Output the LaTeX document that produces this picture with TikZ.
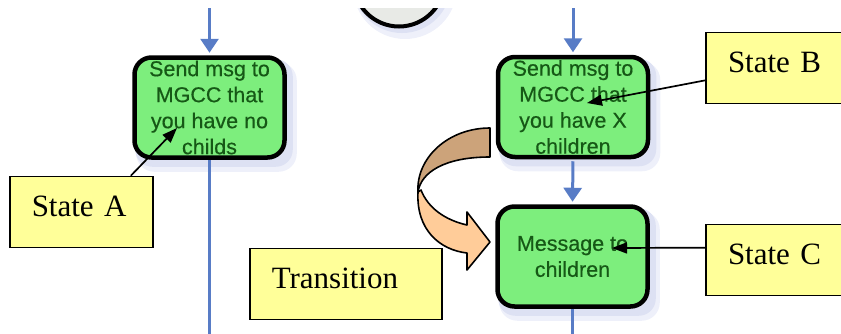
\documentclass[tikz,border=0pt]{standalone}
\usepackage{fontspec}
\setmainfont{Liberation Serif}
\newfontfamily\boxfont[FakeBold=0.4]{Liberation Sans}
\usetikzlibrary{arrows.meta,calc,backgrounds}
\definecolor{boxgreen}{RGB}{125,238,125}
\definecolor{txtgreen}{RGB}{22,88,22}
\definecolor{noteyellow}{RGB}{255,255,153}
\definecolor{flowblue}{RGB}{88,124,198}
\definecolor{shadowlight}{RGB}{238,240,250}
\definecolor{shadowmid}{RGB}{221,225,243}
\definecolor{ribbonback}{RGB}{204,163,122}
\definecolor{ribbonfront}{RGB}{255,204,153}
\definecolor{circlefill}{RGB}{232,234,230}
\begin{document}
\begin{tikzpicture}[x=1pt,y=-1pt,
  taskbox/.style={draw=black, line width=4.5pt, fill=boxgreen, rounded corners=17pt,
    minimum width=150pt, minimum height=100pt, inner sep=0pt, align=center,
    text=txtgreen, font=\boxfont\fontsize{21.5}{26}\selectfont},
  notebox/.style={draw=black, line width=1.6pt, fill=noteyellow, inner xsep=22pt,
    inner ysep=0pt, minimum height=71pt, align=left, text height=21pt, text depth=12pt,
    font=\fontsize{31}{31}\selectfont},
  flow/.style={draw=flowblue, line width=3pt, -{Triangle[length=14pt,width=18pt]}},
  flowline/.style={draw=flowblue, line width=3pt},
  pointer/.style={draw=black, line width=1.7pt, -{Triangle[length=15pt,width=11pt]}},
  ribbon/.style={draw=black, line width=1.6pt, line join=round}
]
\useasboundingbox (0,0) rectangle (841,333);
\clip (0,0) rectangle (841,333);

% start event (cut off at top)
\begin{scope}
  \clip (0,8) rectangle (841,333);
  \fill[shadowlight] (405,-13) circle (52);
  \fill[shadowmid] (402,-16) circle (49);
  \node[circle, draw=black, line width=4pt, fill=circlefill, minimum size=91pt, inner sep=0pt] (start) at (399,-19) {};
\end{scope}

% task boxes
\node[taskbox] (boxA) at (209.5,107.5) {Send msg to\\MGCC that\\you have no\\childs};
\node[taskbox] (boxB) at (573,107) {Send msg to\\MGCC that\\you have X\\children};
\node[taskbox] (boxC) at (572.5,256.5) {Message to\\children};

% shadows
\begin{scope}[on background layer]
  \foreach \b in {boxA,boxB,boxC}{
    \fill[shadowlight, rounded corners=18pt] ($(\b.north west)+(4,7)$) rectangle ($(\b.south east)+(10,12)$);
    \fill[shadowmid, rounded corners=17pt] ($(\b.north west)+(3,4)$) rectangle ($(\b.south east)+(6,7)$);
  }
\end{scope}

% flow connectors
\coordinate (inA) at (boxA.north |- 0,8);
\coordinate (outA) at (boxA.south |- 0,334);
\coordinate (inB) at (boxB.north |- 0,8);
\coordinate (outC) at (boxC.south |- 0,334);
\draw[flow, shorten >=2.5pt] (inA) -- (boxA.north);
\draw[flowline] (boxA.south) -- (outA);
\draw[flow, shorten >=2.5pt] (inB) -- (boxB.north);
\draw[flow, shorten >=2.5pt, shorten <=2pt] (boxB.south) -- (boxC.north);
\draw[flowline] (boxC.south) -- (outC);

% note boxes
\node[notebox, text width=99.5pt] (stateA) at (81.5,212) {State A};
\node[notebox, text width=110pt] (stateB) at (783,68) {State B};
\node[notebox, text width=110pt] (stateC) at (783,260) {State C};
\node[notebox, text width=148.5pt] (transition) at (346,284) {Transition};

% pointers
\coordinate (tipA) at (177,128);
\coordinate (tipB) at (587,103);
\coordinate (tipC) at (612,248);
\draw[pointer] ($(stateA.north west)!0.84!(stateA.north east)$) -- (tipA);
\draw[pointer] ($(stateB.south west)!0.33!(stateB.north west)$) -- (tipB);
\draw[pointer] ($(stateC.south west)!0.67!(stateC.north west)$) -- (tipC);

% transition ribbon arrow
\draw[ribbon, fill=ribbonback] (490,128) .. controls (448,128) and (416,158) .. (418,192)
  .. controls (421,172) and (445,157) .. (490,157) -- cycle;
\draw[ribbon, fill=ribbonfront] (421,190) .. controls (428,208) and (445,220) .. (467,225)
  -- (467,212) -- (490,242) -- (467,270) -- (467,253)
  .. controls (440,250) and (416,230) .. (418,192) -- cycle;
\end{tikzpicture}
\end{document}
